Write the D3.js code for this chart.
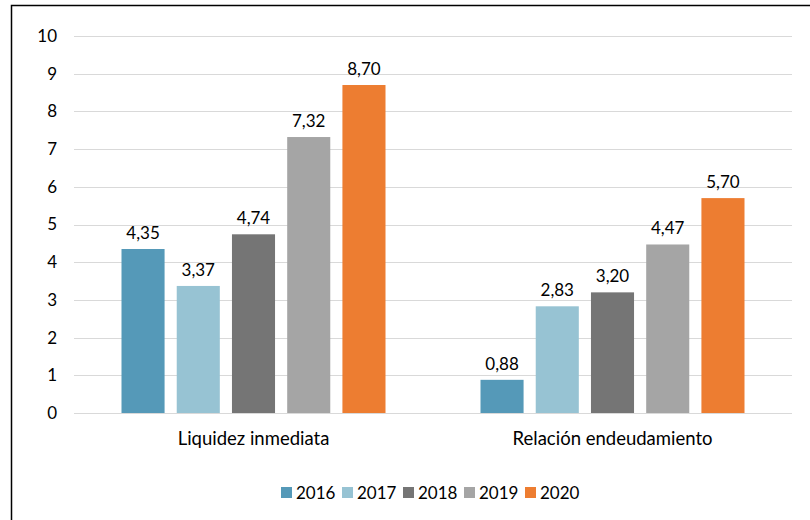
<!DOCTYPE html>
<html>
<head>
<meta charset="utf-8">
<script src="https://cdn.jsdelivr.net/npm/d3@7"></script>
<style>
  body { margin: 0; background: #fff; }
  text { font-family: Lato, "Liberation Sans", Arial, sans-serif; fill: #000; }
</style>
</head>
<body>
<div id="chart"></div>
<script>
// data
var categories = ["Liquidez inmediata", "Relación endeudamiento"];
var years = ["2016", "2017", "2018", "2019", "2020"];
var values2016 = [4.35, 0.88];
var values2017 = [3.37, 2.83];
var values2018 = [4.74, 3.20];
var values2019 = [7.32, 4.47];
var values2020 = [8.70, 5.70];
var yTicks = [0, 1, 2, 3, 4, 5, 6, 7, 8, 9, 10];

var series = [values2016, values2017, values2018, values2019, values2020];
var colors = ["#5599b8", "#97c3d3", "#757575", "#a5a5a5", "#ed7d31"];

var W = 810, H = 520;
var margin = { top: 36, right: 18, bottom: 107, left: 74 };
var width = W - margin.left - margin.right,
    height = H - margin.top - margin.bottom;
var groupWidth = 264;
var font = "Lato, 'Liberation Sans', Arial, sans-serif";

var svg = d3.select("#chart").append("svg")
    .attr("width", W)
    .attr("height", H);

// outer frame
svg.append("rect")
    .attr("x", 11.5).attr("y", 5.5)
    .attr("width", W).attr("height", H)
    .attr("fill", "none")
    .attr("stroke", "#000")
    .attr("stroke-width", 1.5);

var g = svg.append("g")
    .attr("transform", "translate(" + margin.left + "," + margin.top + ")");

var y = d3.scaleLinear().domain([0, 10]).range([height, 0]);

var x0 = d3.scaleBand().domain(categories).range([0, width]).padding(0);

var x1 = d3.scaleBand().domain(years)
    .range([0, groupWidth]).paddingInner(0.22).paddingOuter(0);

// gridlines
g.selectAll(".grid").data(yTicks).enter().append("line")
    .attr("class", "grid")
    .attr("x1", 0).attr("x2", width)
    .attr("y1", function(d) { return Math.round(y(d)) + 0.5; })
    .attr("y2", function(d) { return Math.round(y(d)) + 0.5; })
    .attr("stroke", "#d9d9d9")
    .attr("stroke-width", 1);

// y axis labels
var yAxis = d3.axisLeft(y).tickValues(yTicks).tickSize(0).tickPadding(17)
    .tickFormat(d3.format("d"));
var ya = g.append("g").call(yAxis);
ya.select(".domain").remove();
ya.selectAll("text")
    .style("font-size", "17px")
    .style("font-family", font)
    .attr("fill", "#000");

// x axis labels
var xAxis = d3.axisBottom(x0).tickSize(0).tickPadding(19);
var xa = g.append("g").attr("transform", "translate(0," + height + ")").call(xAxis);
xa.select(".domain").remove();
xa.selectAll("text")
    .style("font-size", "18.5px")
    .style("font-family", font)
    .attr("fill", "#000");

// bars
var rows = [];
categories.forEach(function(c, i) {
    years.forEach(function(yr, j) {
        rows.push({ cat: c, year: yr, value: series[j][i], color: colors[j] });
    });
});

var groupOffset = (x0.bandwidth() - groupWidth) / 2;

g.selectAll(".bar").data(rows).enter().append("rect")
    .attr("class", "bar")
    .attr("x", function(d) { return x0(d.cat) + groupOffset + x1(d.year); })
    .attr("y", function(d) { return y(d.value); })
    .attr("width", x1.bandwidth())
    .attr("height", function(d) { return y(0) - y(d.value); })
    .attr("fill", function(d) { return d.color; });

g.selectAll(".lbl").data(rows).enter().append("text")
    .attr("class", "lbl")
    .attr("x", function(d) { return x0(d.cat) + groupOffset + x1(d.year) + x1.bandwidth() / 2; })
    .attr("y", function(d) { return y(d.value) - 10; })
    .attr("text-anchor", "middle")
    .style("font-size", "17px")
    .text(function(d) { return d3.format(".2f")(d.value).replace(".", ","); });

// legend
var legend = svg.append("g").attr("transform", "translate(281,487)");
var item = legend.selectAll(".leg").data(years).enter().append("g")
    .attr("class", "leg")
    .attr("transform", function(d, i) { return "translate(" + (i * 61) + ",0)"; });
item.append("rect")
    .attr("width", 11).attr("height", 11)
    .attr("fill", function(d, i) { return colors[i]; });
item.append("text")
    .attr("x", 15).attr("y", 11.5)
    .style("font-size", "17px")
    .text(function(d) { return d; });
</script>
</body>
</html>
